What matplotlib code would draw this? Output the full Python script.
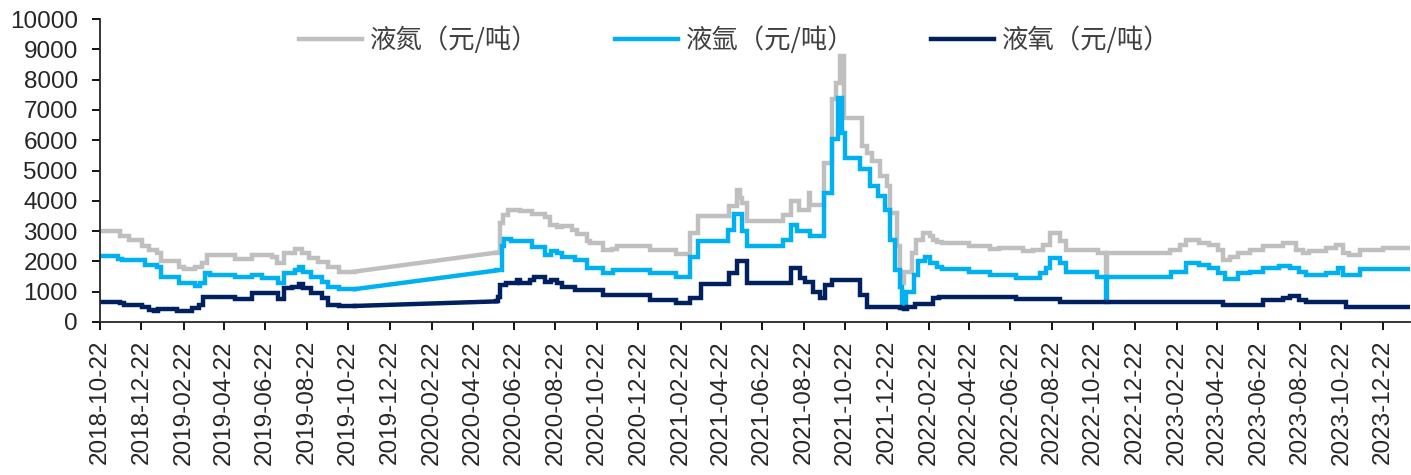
import matplotlib
matplotlib.use("Agg")
import matplotlib.pyplot as plt
import matplotlib.dates as mdates
import numpy as np
import pandas as pd

plt.rcParams['font.family'] = ['Liberation Sans', 'DejaVu Sans']

# series labels
labels = ['液氮（元/吨）', '液氩（元/吨）', '液氧（元/吨）']
colors = ['#BFBFBF', '#00B0F0', '#002060']

# no data between these two dates, the chart joins them with a straight line
GAP_START = '2019-11-01'
GAP_END = '2020-05-27'

# liquid nitrogen: price change points
n2_dates = ['2018-10-22', '2018-11-21', '2018-12-03', '2018-12-23', '2019-01-02', '2019-01-14',
            '2019-01-19', '2019-02-15', '2019-02-22', '2019-03-11', '2019-03-21', '2019-03-28',
            '2019-05-09', '2019-06-02', '2019-07-02', '2019-07-09', '2019-07-19', '2019-08-05',
            '2019-08-15', '2019-08-25', '2019-09-08', '2019-09-23', '2019-10-08', '2019-11-01',
            '2020-05-27', '2020-06-02', '2020-06-06', '2020-06-13', '2020-07-01', '2020-07-18',
            '2020-08-07', '2020-08-14', '2020-08-24', '2020-08-31', '2020-09-15', '2020-09-23',
            '2020-10-07', '2020-10-12', '2020-10-31', '2020-11-13', '2020-11-20', '2021-01-08',
            '2021-02-16', '2021-03-08', '2021-03-20', '2021-05-04', '2021-05-16', '2021-05-20',
            '2021-05-23', '2021-05-31', '2021-07-22', '2021-08-03', '2021-08-15', '2021-08-30',
            '2021-09-01', '2021-09-21', '2021-10-03', '2021-10-08', '2021-10-14', '2021-10-20',
            '2021-11-16', '2021-11-23', '2021-11-30', '2021-12-12', '2021-12-22', '2021-12-27',
            '2022-01-06', '2022-01-11', '2022-01-14', '2022-01-16', '2022-01-28', '2022-02-04',
            '2022-02-14', '2022-02-24', '2022-03-01', '2022-03-06', '2022-03-13', '2022-04-23',
            '2022-05-23', '2022-06-06', '2022-07-11', '2022-07-26', '2022-08-09', '2022-08-19',
            '2022-09-03', '2022-09-12', '2022-10-29', '2022-11-10', '2022-11-12', '2023-02-12',
            '2023-02-26', '2023-03-08', '2023-03-27', '2023-04-11', '2023-04-23', '2023-05-01',
            '2023-05-11', '2023-05-23', '2023-06-09', '2023-06-29', '2023-07-28', '2023-08-17',
            '2023-08-26', '2023-09-05', '2023-09-30', '2023-10-14', '2023-10-24', '2023-11-03',
            '2023-11-18', '2023-12-22', '2024-01-30']
n2_vals = [3000, 2830, 2700, 2500, 2380, 2280,
           2000, 1830, 1750, 1830, 1950, 2200,
           2080, 2220, 2150, 1940, 2270, 2400,
           2280, 2100, 1980, 1830, 1660, 1665,
           2290, 3280, 3540, 3685, 3650, 3575,
           3465, 3210, 3135, 3180, 3045, 2910,
           2660, 2605, 2385, 2420, 2495, 2385,
           2250, 2950, 3500, 3820, 4370, 4100,
           3930, 3320, 3545, 3985, 3710, 4260,
           3875, 5255, 7350, 7900, 8785, 6745,
           5805, 5585, 5310, 4810, 4480, 3600,
           2495, 1610, 1280, 1640, 2275, 2715,
           2935, 2850, 2715, 2650, 2605, 2495,
           2405, 2440, 2330, 2385, 2550, 2935,
           2660, 2385, 2275, 1500, 2275, 2385,
           2550, 2690, 2610, 2550, 2385, 2050,
           2160, 2275, 2385, 2515, 2605, 2385,
           2275, 2330, 2440, 2550, 2275, 2220,
           2385, 2440, 2440]

# liquid argon
ar_dates = ['2018-10-22', '2018-11-18', '2018-11-23', '2018-12-27', '2019-01-14', '2019-01-19',
            '2019-02-15', '2019-03-11', '2019-03-18', '2019-03-26', '2019-04-02', '2019-05-09',
            '2019-06-02', '2019-06-17', '2019-07-11', '2019-07-19', '2019-08-05', '2019-08-11',
            '2019-08-16', '2019-08-29', '2019-09-13', '2019-09-23', '2019-10-08', '2019-11-01',
            '2020-05-27', '2020-06-04', '2020-06-08', '2020-06-18', '2020-07-18', '2020-08-07',
            '2020-08-16', '2020-08-24', '2020-08-31', '2020-09-20', '2020-10-07', '2020-10-31',
            '2020-11-15', '2021-01-08', '2021-02-16', '2021-03-08', '2021-03-20', '2021-05-03',
            '2021-05-11', '2021-05-23', '2021-05-31', '2021-07-22', '2021-08-03', '2021-08-12',
            '2021-09-01', '2021-09-21', '2021-10-03', '2021-10-12', '2021-10-17', '2021-10-22',
            '2021-11-13', '2021-11-28', '2021-12-10', '2021-12-20', '2021-12-27', '2022-01-04',
            '2022-01-11', '2022-01-14', '2022-01-19', '2022-01-31', '2022-02-07', '2022-02-17',
            '2022-02-24', '2022-03-06', '2022-03-13', '2022-04-23', '2022-05-23', '2022-07-01',
            '2022-08-04', '2022-08-14', '2022-08-19', '2022-09-03', '2022-09-12', '2022-10-27',
            '2022-11-10', '2022-11-12', '2023-02-14', '2023-03-08', '2023-03-27', '2023-04-11',
            '2023-04-23', '2023-05-04', '2023-05-23', '2023-06-09', '2023-06-29', '2023-07-23',
            '2023-08-07', '2023-08-21', '2023-08-31', '2023-09-30', '2023-10-17', '2023-10-24',
            '2023-11-18', '2024-01-30']
ar_vals = [2185, 2075, 2030, 1890, 1800, 1500,
           1280, 1190, 1280, 1610, 1560, 1480,
           1555, 1445, 1280, 1610, 1720, 1800,
           1640, 1470, 1335, 1170, 1090, 1085,
           1700, 2495, 2740, 2660, 2470, 2220,
           2330, 2280, 2160, 2050, 1780, 1610,
           1720, 1610, 1480, 2160, 2660, 3045,
           3550, 2990, 2495, 2715, 3210, 2990,
           2825, 4260, 6025, 7405, 6245, 5420,
           5035, 4480, 4150, 3710, 2715, 1720,
           1170, 450, 1005, 1555, 2000, 2160,
           1940, 1830, 1745, 1665, 1555, 1445,
           1610, 1775, 2100, 1940, 1665, 1500,
           670, 1500, 1665, 1940, 1880, 1775,
           1610, 1415, 1610, 1665, 1775, 1855,
           1775, 1665, 1555, 1610, 1775, 1555,
           1750, 1750]

# liquid oxygen
o2_dates = ['2018-10-22', '2018-11-21', '2018-11-26', '2018-12-23', '2019-01-02', '2019-01-09',
            '2019-01-16', '2019-02-12', '2019-03-06', '2019-03-16', '2019-03-23', '2019-03-31',
            '2019-05-09', '2019-06-02', '2019-07-11', '2019-07-19', '2019-07-31', '2019-08-10',
            '2019-08-16', '2019-08-29', '2019-09-13', '2019-09-23', '2019-10-08', '2019-11-01',
            '2020-05-27', '2020-05-29', '2020-06-02', '2020-06-10', '2020-06-26', '2020-07-01',
            '2020-07-16', '2020-07-21', '2020-08-07', '2020-08-16', '2020-08-24', '2020-08-31',
            '2020-09-20', '2020-10-31', '2021-01-08', '2021-02-16', '2021-03-08', '2021-03-24',
            '2021-05-04', '2021-05-16', '2021-05-31', '2021-08-03', '2021-08-17', '2021-08-24',
            '2021-09-05', '2021-09-15', '2021-09-22', '2021-10-03', '2021-11-13', '2021-11-23',
            '2022-01-11', '2022-01-16', '2022-01-21', '2022-02-02', '2022-03-01', '2022-03-09',
            '2022-07-01', '2022-09-03', '2023-05-01', '2023-06-29', '2023-07-28', '2023-08-07',
            '2023-08-21', '2023-08-31', '2023-10-29', '2024-01-30']
o2_vals = [670, 620, 560, 485, 395, 375,
           420, 375, 470, 560, 815, 840,
           760, 950, 760, 1115, 1170, 1250,
           1115, 950, 800, 560, 535, 530,
           680, 840, 1225, 1280, 1390, 1280,
           1390, 1500, 1335, 1390, 1280, 1170,
           1060, 895, 730, 620, 785, 1250,
           1610, 2000, 1280, 1780, 1450, 1335,
           1005, 785, 1225, 1390, 895, 505,
           450, 420, 485, 595, 805, 840,
           760, 670, 560, 730, 805, 850,
           730, 670, 505, 505]

yticks = list(range(0, 10001, 1000))


def draw(ax, dates, vals, color, label):
    d = pd.to_datetime(dates)
    v = np.array(vals)
    i = list(d).index(pd.Timestamp(GAP_START))
    kw = dict(color=color, lw=3.2, solid_joinstyle='miter')
    ax.plot(d[:i + 1], v[:i + 1], drawstyle='steps-post', **kw)
    ax.plot(d[i:i + 2], v[i:i + 2], **kw)
    ax.plot(d[i + 1:], v[i + 1:], drawstyle='steps-post', label=label, **kw)


fig = plt.figure(figsize=(14.11, 4.75), dpi=100)
ax = fig.add_axes([100 / 1411, 1 - 322 / 475, 1310 / 1411, 303 / 475])

draw(ax, n2_dates, n2_vals, colors[0], labels[0])
draw(ax, ar_dates, ar_vals, colors[1], labels[1])
draw(ax, o2_dates, o2_vals, colors[2], labels[2])

ax.set_ylim(0, 10000)
ax.set_yticks(yticks)
ax.set_xlim(pd.Timestamp('2018-10-22'), pd.Timestamp('2024-01-31'))
ax.xaxis.set_major_locator(mdates.MonthLocator(bymonth=[2, 4, 6, 8, 10, 12], bymonthday=22))
ax.xaxis.set_major_formatter(mdates.DateFormatter('%Y-%m-%d'))

for s in ['top', 'right']:
    ax.spines[s].set_visible(False)
for s in ['left', 'bottom']:
    ax.spines[s].set_linewidth(1.3)
    ax.spines[s].set_color('#262626')

ax.tick_params(axis='y', direction='out', length=6, width=1.3, pad=10,
               labelsize=17.5, labelcolor='#262626')
ax.tick_params(axis='x', direction='out', length=6, width=1.3, pad=7,
               labelsize=17.5, labelcolor='#262626', labelrotation=90)

ax.legend(loc='center', bbox_to_anchor=(0.4845, 0.93), ncol=3, frameon=False,
          prop={'family': ['Noto Sans CJK SC', 'DejaVu Sans'], 'size': 19},
          labelcolor='#404040', handlelength=2.4, handletextpad=0.3,
          columnspacing=2.88)

fig.savefig('out.png', dpi=100)
